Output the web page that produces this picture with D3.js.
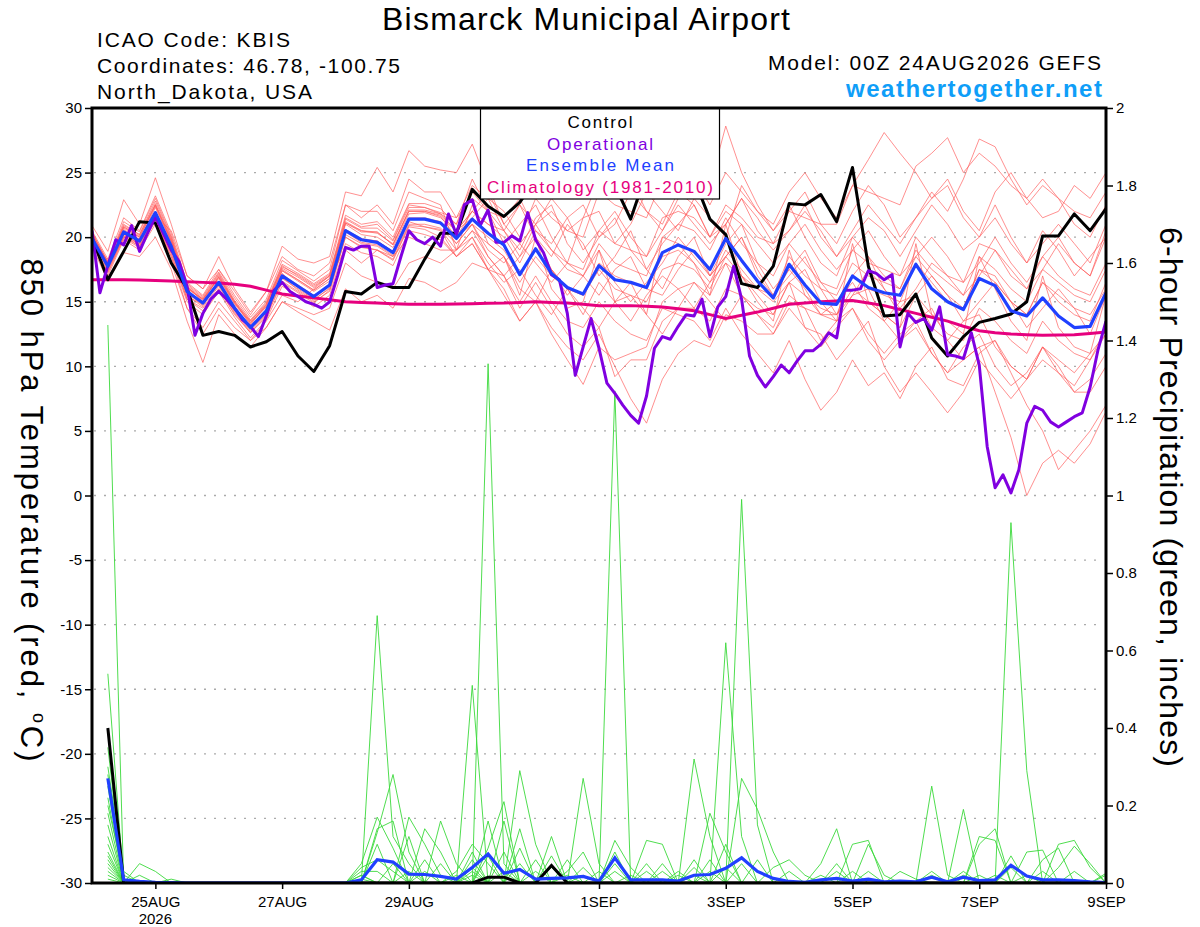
<!DOCTYPE html>
<html><head><meta charset="utf-8">
<script src="https://cdn.jsdelivr.net/npm/d3@7"></script>
<style>
body{margin:0;background:#fff}
svg{display:block}
text{font-family:"Liberation Sans",Arial,Helvetica,sans-serif}
</style>
</head><body>
<svg id="c" width="1200" height="927"></svg>
<script>
// ---------------- DATA ----------------
const runStartISO = "2026-08-24T00:00:00Z";
const tempHours = d3.range(0, 385, 6);     // 6-hourly GEFS output
const operHours = d3.range(0, 385, 3);     // 3-hourly operational GFS
const precipHours = d3.range(6, 385, 6);   // 6-h accumulations

const tempTicks = [-30,-25,-20,-15,-10,-5,0,5,10,15,20,25,30];
const gridTemps = [-25,-20,-15,-10,-5,0,5,10,15,20,25];
const precipTicks = [0,0.2,0.4,0.6,0.8,1,1.2,1.4,1.6,1.8,2];
const precipTickLabels = ["0","0.2","0.4","0.6","0.8","1","1.2","1.4","1.6","1.8","2"];
const xTickDates = ["2026-08-25","2026-08-27","2026-08-29","2026-09-01","2026-09-03","2026-09-05","2026-09-07","2026-09-09"];
const xTickLabels = ["25AUG","27AUG","29AUG","1SEP","3SEP","5SEP","7SEP","9SEP"];

const controlTemp = [20.0,16.7,18.9,21.2,21.1,18.0,16.0,12.4,12.7,12.4,11.5,11.9,12.7,10.8,9.6,11.6,15.8,15.6,16.5,16.1,16.1,18.3,20.3,20.3,23.7,22.4,21.6,22.7,24.5,25.5,26.0,25.0,25.5,24.0,21.4,25.0,26.0,25.5,24.5,21.4,20.2,16.4,16.1,17.75,22.6,22.5,23.3,21.2,25.4,17.75,13.9,14.0,15.6,12.2,10.8,12.3,13.4,13.7,14.05,15.0,20.1,20.1,21.8,20.5,22.2];

const operationalTemp = [20.5,15.7,17.8,19.8,19.4,20.9,18.9,20.3,21.6,20.3,19.0,18.1,16.2,12.4,14.1,15.2,15.8,15.2,14.5,13.6,13.1,12.3,13.9,15.9,16.5,15.8,15.4,15.0,14.8,14.5,15.0,17.0,19.2,19.0,19.3,19.3,16.1,16.3,16.4,18.5,20.5,19.8,19.5,20.0,19.3,21.8,20.2,22.5,22.9,20.9,22.1,19.6,19.6,20.1,19.7,21.9,19.8,18.8,17.1,16.7,14.1,9.3,11.5,13.7,11.4,8.7,7.9,7.0,6.2,5.6,7.7,11.4,12.3,12.1,13.1,14.0,13.9,15.2,12.3,14.6,15.4,17.75,15.2,10.8,9.3,8.4,9.2,10.1,9.5,10.4,11.2,11.2,11.7,12.6,12.2,15.9,15.9,16.0,17.4,17.2,16.7,17.1,11.5,14.1,13.4,13.7,12.8,14.6,10.9,10.8,10.6,12.6,10.1,3.8,0.6,1.6,0.2,2.0,5.6,6.9,6.6,5.7,5.3,5.7,6.1,6.4,8.4,11.3,13.5];

const meanTemp = [19.9,17.75,20.4,19.7,21.9,19.3,15.8,14.9,16.5,14.5,13.0,14.3,17.0,16.2,15.4,16.3,20.5,19.8,19.6,18.8,21.4,21.4,21.1,19.9,21.4,20.3,19.4,17.1,19.1,17.2,16.1,15.6,17.8,16.7,16.5,16.1,18.8,19.4,18.9,17.5,19.9,18.2,16.6,15.3,17.9,16.3,14.9,14.8,17.0,16.1,15.7,15.5,17.9,16.0,15.0,14.4,16.8,16.25,14.3,13.9,15.3,13.9,13.0,13.1,15.7];

const climoTemp = [16.7,16.7,16.7,16.68,16.65,16.6,16.55,16.5,16.45,16.35,16.2,15.9,15.6,15.45,15.3,15.15,15.0,14.95,14.9,14.85,14.8,14.8,14.8,14.82,14.85,14.88,14.9,14.95,15.0,14.95,14.9,14.8,14.7,14.7,14.7,14.65,14.6,14.45,14.3,14.0,13.7,13.95,14.2,14.5,14.8,14.9,15.0,15.05,15.1,14.9,14.7,14.4,14.1,13.8,13.5,13.1,12.75,12.6,12.5,12.45,12.4,12.42,12.45,12.55,12.65];

const member01 = [20.3,18.0,21.0,20.2,22.8,20.0,16.2,15.0,17.0,15.0,13.2,14.8,17.8,17.0,16.2,17.0,21.5,20.8,21.0,19.8,22.5,22.3,21.8, 21.0,24.5,22.0,19.5,21.0,22.5,20.0,18.0,21.5,22.0,19.5,21.0,23.5,22.0,20.5,23.0,21.5,20.0,24.0,22.0, 20.5,22.0,23.5,21.0,19.5,22.0,24.0,22.5,20.0,21.5,23.0,24.5,22.0,20.5,23.5,25.0,23.0,21.5,22.0,24.0,23.0,25.0];
const member02 = [19.5,17.0,19.8,19.0,21.0,18.5,15.0,14.0,15.8,13.8,12.2,13.6,16.2,15.5,14.6,15.5,19.5,18.8,18.5,17.8,20.5,20.2,19.8, 18.5,20.0,17.5,18.5,16.0,15.0,17.5,16.0,14.0,16.5,15.0,13.5,15.5,17.0,16.0,14.5,16.5,18.0,15.5,14.0, 13.0,15.5,14.5,12.0,13.5,14.5,12.5,11.0,12.5,13.5,11.0,9.5,10.5,11.5,8.0,4.5,0.0,2.5,3.5,2.5,4.0,6.5];
const member03 = [20.0,17.8,20.6,19.8,22.3,19.6,16.0,15.2,16.8,14.8,13.3,14.6,17.4,16.6,15.8,16.6,21.0,20.2,20.0,19.2,21.8,21.9,21.5, 20.5,22.0,21.0,20.5,18.5,21.0,19.0,17.5,17.0,19.5,18.0,17.5,17.0,20.0,21.0,20.5,19.0,21.5,19.5,18.0, 17.0,19.5,18.0,16.5,16.0,19.0,18.0,17.5,17.0,20.0,18.5,17.0,16.5,19.5,19.0,17.0,16.0,18.5,17.0,16.0,15.5,18.0];
const member04 = [19.8,17.5,20.0,19.3,21.5,18.8,15.2,14.3,16.0,14.0,12.6,13.9,16.6,15.8,15.0,15.8,20.0,19.2,19.0,18.2,20.8,20.6,20.0, 18.5,19.5,17.5,16.0,13.5,15.0,13.0,11.5,10.5,12.5,10.0,7.5,5.6,9.0,11.0,12.0,11.5,14.0,13.5,12.5, 12.5,15.0,14.5,14.0,14.0,17.0,16.0,15.5,15.0,18.0,16.5,15.0,14.5,17.5,17.0,15.0,14.0,16.5,15.0,14.0,13.5,16.5];
const member05 = [20.5,18.3,21.5,20.5,23.2,20.3,16.5,15.5,17.5,15.5,13.8,15.2,18.2,17.4,16.6,17.5,22.5,21.5,22.5,21.0,24.5,23.5,23.5, 21.5,24.0,23.0,22.0,20.0,23.0,21.5,20.5,20.0,23.5,22.5,22.0,21.5,24.5,25.0,24.5,24.0,28.6,25.0,22.5, 20.5,22.5,20.0,18.0,17.0,20.0,18.5,17.0,16.0,18.5,17.0,15.5,14.5,17.5,16.5,15.0,14.0,16.5,15.5,14.5,14.0,16.0];
const member06 = [19.6,17.3,20.0,19.5,21.5,19.0,15.5,14.6,16.2,14.2,12.7,14.0,16.8,16.0,15.2,16.0,20.2,19.5,19.3,18.5,21.0,21.0,20.7, 19.5,21.0,20.0,19.0,17.0,19.0,17.5,16.0,15.5,17.5,16.0,15.5,15.0,17.5,18.0,17.5,16.0,18.5,17.0,15.5, 14.0,16.5,13.0,12.5,10.5,12.0,13.5,10.0,8.0,9.5,8.0,6.4,8.0,10.5,9.0,7.5,9.0,11.5,9.5,8.5,10.5,13.0];
const member07 = [20.2,17.9,20.8,20.0,22.5,19.8,16.3,15.3,17.2,15.1,13.5,14.9,17.6,16.9,16.1,17.0,21.2,20.5,20.3,19.5,22.0,22.0,21.6, 20.0,22.0,21.0,20.0,18.0,20.5,19.0,18.0,17.5,20.5,19.5,19.0,18.5,21.5,22.0,21.5,20.0,22.5,21.5,20.0, 19.5,22.0,21.5,21.0,21.0,24.0,23.5,23.0,22.5,25.5,26.5,27.7,25.0,26.5,25.5,24.0,23.0,24.5,23.0,22.0,21.5,23.5];
const member08 = [19.7,18.2,20.2,19.9,21.6,20.5,17.0,16.0,17.5,15.8,14.0,15.8,18.5,17.5,17.0,18.0,22.5,22.0,22.0,20.5,23.5,23.0,22.5, 19.0,22.5,19.5,18.5,15.5,20.0,16.0,14.5,15.0,19.0,15.0,15.5,14.0,20.0,19.5,18.0,15.5,21.0,17.0,15.0, 13.5,19.0,15.5,14.0,13.5,19.5,15.0,14.0,13.0,19.5,14.0,13.5,12.5,18.5,16.0,13.5,12.0,17.0,13.0,11.5,11.0,15.5];
const member09 = [19.9,17.6,20.3,19.4,21.8,19.0,15.4,14.8,16.3,14.3,12.8,14.1,16.9,15.9,15.1,16.1,20.4,19.6,19.4,18.6,21.2,20.8,20.5, 18.5,19.5,17.5,15.5,13.5,15.0,12.5,10.5,8.6,11.5,10.5,11.0,11.5,15.0,16.0,16.5,15.5,18.0,17.0,16.0, 15.5,18.5,17.0,16.0,15.5,18.0,17.0,16.5,16.0,19.0,17.5,16.5,15.5,18.5,17.5,16.0,15.0,17.5,16.5,15.5,15.0,17.5];
const member10 = [20.9,18.9,22.9,21.0,24.6,21.0,17.0,16.0,18.5,16.0,14.2,15.8,19.3,18.3,18.0,18.5,23.5,23.2,25.4,23.5,26.7,25.5,25.2, 25.0,27.2,24.0,21.0,22.5,20.0,18.5,21.0,19.5,17.0,18.5,20.5,17.5,16.0,18.5,20.0,17.0,19.5,21.0,18.0, 16.0,17.5,19.0,16.5,15.0,17.0,18.5,16.0,14.5,16.0,18.0,17.0,15.5,17.0,19.0,17.5,16.0,17.5,19.5,18.0,17.0,20.0];
const member11 = [19.4,17.2,19.9,19.2,21.2,18.7,15.2,14.5,16.0,14.1,12.6,13.8,16.5,15.7,14.9,15.9,20.0,19.3,19.0,18.3,20.9,20.8,20.6, 19.0,20.5,19.5,18.5,16.5,18.5,17.0,16.0,15.5,18.0,17.0,16.5,16.0,18.5,19.0,18.0,16.5,19.0,17.5,16.0, 15.0,16.5,17.5,15.0,13.5,15.5,16.0,13.5,12.0,13.5,14.5,12.0,10.5,11.5,12.0,9.5,7.0,5.0,2.0,3.5,5.0,7.0];
const member12 = [20.4,18.1,21.2,20.4,23.0,20.1,16.4,15.4,17.3,15.3,13.6,15.0,17.9,17.2,16.4,17.2,21.7,21.0,21.2,20.0,22.6,22.6,22.2, 21.0,23.5,22.0,21.5,23.0,20.5,19.5,21.5,22.5,20.0,21.0,23.5,22.0,20.5,23.0,24.5,22.5,25.0,23.5,22.0, 21.0,23.5,25.0,23.0,21.5,24.0,26.0,28.1,26.5,25.0,23.0,24.0,21.5,20.0,22.5,20.0,18.0,20.5,19.0,17.0,18.5,20.0];
const member13 = [19.8,17.7,20.4,19.6,21.9,19.2,15.7,14.7,16.6,14.4,13.0,14.4,17.2,16.1,15.3,16.4,20.6,19.9,19.7,18.9,21.5,21.5,21.2, 20.0,21.0,19.0,18.0,19.5,18.0,16.5,18.0,17.0,15.5,17.5,18.5,16.0,15.5,17.5,19.0,17.0,18.5,20.0,17.0, 15.5,17.5,16.0,14.0,15.0,16.5,14.5,13.5,15.0,15.5,13.0,12.0,13.5,14.0,11.5,10.0,9.0,10.5,9.5,8.0,8.0,10.0];
const member14 = [19.3,16.6,18.8,18.5,20.0,17.5,13.5,10.3,14.0,12.5,11.5,13.0,15.0,14.2,13.5,12.8,16.0,15.0,15.5,14.5,16.8,16.5,15.8, 16.5,18.0,17.5,17.0,15.0,17.0,15.0,13.5,13.0,15.0,13.5,12.5,12.0,14.5,14.0,13.5,12.0,14.5,12.5,11.0, 9.5,12.0,9.0,6.6,8.0,10.5,8.5,9.5,7.5,10.0,11.5,9.0,8.5,11.0,12.0,10.0,9.0,11.5,10.5,9.5,11.0,12.5];
const member15 = [20.1,18.0,20.7,20.0,22.4,19.7,16.1,15.1,16.9,14.9,13.4,14.7,17.5,16.7,15.9,16.8,21.1,20.4,20.4,19.4,22.0,22.0,21.7, 20.5,21.5,23.0,20.5,19.0,21.5,22.5,19.5,18.0,20.0,21.5,19.0,17.5,19.5,21.0,22.5,20.0,21.0,23.0,20.5, 19.0,20.5,22.5,20.0,18.5,20.5,22.5,21.0,19.5,21.5,23.5,22.0,24.5,27.6,27.0,24.5,22.5,24.0,23.0,21.0,20.0,22.5];
const member16 = [19.9,17.9,20.5,19.8,22.0,19.4,15.9,14.9,16.4,14.5,13.1,14.3,17.1,16.3,15.5,16.3,20.6,19.8,19.7,18.9,21.4,21.4,21.2, 19.5,21.0,18.5,17.0,18.5,20.0,17.5,15.5,17.0,19.0,16.5,15.0,16.5,18.0,20.0,18.5,17.0,18.5,20.0,17.5, 15.5,17.0,18.5,16.0,14.0,15.5,17.5,16.0,14.0,15.5,17.0,15.5,13.5,15.0,16.5,15.0,13.0,14.5,16.0,14.5,12.5,15.5];
const member17 = [19.6,17.4,20.1,19.3,21.4,18.5,14.5,13.0,15.0,13.5,12.0,13.5,15.5,15.0,16.0,17.0,19.0,18.0,19.0,18.5,20.0,19.5,19.0, 19.0,20.5,18.5,17.0,14.5,16.5,14.5,12.5,11.5,13.0,9.2,10.5,10.5,13.5,14.5,14.5,13.5,16.0,15.5,14.5, 14.0,16.5,15.5,14.5,14.0,16.0,15.0,14.0,13.0,15.5,14.0,12.5,12.0,14.5,13.5,12.0,11.0,13.5,12.0,11.0,10.5,12.5];
const member18 = [20.3,18.1,20.9,20.2,22.6,19.9,16.2,15.2,17.1,15.0,13.5,14.8,17.7,17.1,16.3,17.1,21.4,20.7,20.7,19.7,22.3,22.3,21.9, 21.5,23.0,22.0,20.5,22.5,21.0,22.0,20.5,21.5,24.5,26.5,24.5,22.0,21.0,23.5,22.5,20.0,22.0,21.0,19.5, 18.0,19.5,21.0,19.0,17.5,19.0,20.5,18.5,17.0,18.5,20.0,18.5,16.5,18.0,20.0,18.0,16.5,18.5,20.0,18.0,17.0,20.5];
const member19 = [19.7,17.6,20.2,19.5,21.7,18.0,14.5,12.5,14.5,13.0,12.0,13.0,15.0,14.5,14.0,14.5,18.0,17.0,16.5,16.0,18.0,18.5,18.0, 19.0,20.0,18.0,16.5,17.5,15.5,14.0,16.0,14.5,13.0,15.0,16.5,14.0,12.5,14.5,16.5,15.0,13.5,15.5,14.0, 12.5,14.5,13.0,11.5,13.0,14.5,12.0,10.5,12.0,13.0,11.0,9.5,11.5,12.5,10.0,8.5,9.5,11.5,10.0,8.0,9.0,11.0];
const member20 = [20.2,17.9,20.8,20.1,22.5,19.7,16.1,15.2,16.9,14.9,13.4,14.6,17.4,16.7,15.9,16.8,21.1,20.5,20.4,19.4,22.1,22.1,21.8, 20.5,22.0,23.5,21.0,19.5,21.0,23.0,21.5,19.0,20.5,22.0,20.0,18.5,20.5,22.5,21.0,19.5,21.0,23.0,21.5, 19.5,20.5,22.0,20.5,18.5,20.0,21.5,20.5,18.5,20.5,22.5,21.0,19.0,20.0,21.5,19.5,18.0,19.5,21.0,19.5,18.0,21.0];
const memberTemps = [member01,member02,member03,member04,member05,member06,member07,member08,member09,member10,member11,member12,member13,member14,member15,member16,member17,member18,member19,member20];

// 6-hour precipitation (inches), steps 6h..384h
const precip01 = [1.44,0,0,0,0,0,0,0, 0,0,0,0,0,0,0,0, 0,0,0,0,0.06,0,0,0, 0.16,0,0,0.06,0,0,0,0, 1.27,0,0,0,0,0,0,0, 0,0.06,0,0,0,0,0,0, 0,0,0,0,0,0,0,0, 0.02,0,0,0,0,0,0,0.02];
const precip02 = [0.54,0,0,0,0,0,0,0, 0,0,0,0,0,0,0,0, 0,0,0,0,0,0.05,0,0.06, 0,0.08,0,0,0,0,0.04,0, 0,0,0,0,0,0.06,0,0, 0,0,0,0,0,0,0,0.03, 0,0,0,0,0.25,0.02,0,0, 0,0,0,0,0,0,0,0];
const precip03 = [0.35,0,0,0,0,0,0,0, 0,0,0,0,0,0,0,0, 0.05,0.17,0.09,0,0,0,0,0, 0,0,0,0,0.04,0,0,0, 0,0,0.11,0.10,0,0,0,0, 0,0,0,0,0,0,0,0, 0,0,0,0,0,0,0.03,0, 0,0,0,0,0,0,0,0];
const precip04 = [0.30,0.03,0,0,0,0,0,0, 0,0,0,0,0,0,0,0, 0,0,0,0.12,0,0,0,0.03, 0,0,0.09,0,0,0,0,0, 0.03,0,0,0,0,0,0.03,0, 0,0,0,0,0,0.05,0.14,0, 0,0,0,0,0,0,0,0, 0,0,0,0,0.10,0.11,0.04,0];
const precip05 = [0.28,0,0,0,0,0,0,0, 0,0,0,0,0,0,0,0, 0,0.69,0.12,0.05,0,0,0,0, 0,0,0,0,0,0.02,0,0, 0,0.02,0,0,0,0,0,0, 0,0,0,0,0,0,0,0, 0.03,0,0,0,0,0,0,0.12, 0.11,0,0,0,0,0,0,0];
const precip06 = [0.25,0,0.05,0.03,0,0,0,0, 0,0,0,0,0,0,0,0, 0,0,0,0,0,0,0,0, 0.09,0.21,0,0,0,0,0,0, 0,0,0,0,0.02,0,0,0, 0.05,0,0,0,0,0,0,0, 0,0,0,0,0,0,0,0, 0,0.07,0,0,0,0,0,0];
const precip07 = [0.22,0,0,0,0,0,0,0, 0,0,0,0,0,0,0,0, 0.04,0.06,0.03,0,0,0,0.02,0, 0,0,0.05,0,0,0,0,0, 0.08,0,0,0,0,0,0.18,0.08, 0,0,0,0,0,0,0,0, 0,0,0,0,0.03,0,0,0, 0,0,0.02,0,0,0,0,0];
const precip08 = [0.20,0.02,0,0,0,0,0,0, 0,0,0,0,0,0,0,0, 0,0,0,0,0.14,0.08,0,0, 0,0,0,0,0,0,0.02,0, 0,0,0,0,0,0,0,0, 0,0,0.04,0.06,0.02,0,0,0, 0,0,0,0,0,0,0,0, 0,0,0,0,0,0,0,0];
const precip09 = [0.18,0,0,0,0,0,0,0, 0,0,0,0,0,0,0,0, 0,0.14,0.16,0,0,0,0,0, 0,0.03,0,0,0.07,0,0,0, 0,0,0,0,0,0,0.06,0, 0.99,0.15,0,0,0,0,0,0, 0,0,0,0,0,0,0,0, 0,0,0,0.03,0,0,0,0];
const precip10 = [0.15,0,0.02,0,0,0,0,0, 0,0,0,0,0,0,0,0, 0,0,0,0,0.03,0,0,0.51, 0,0,0,0,0,0,0,0.03, 0,0,0.05,0,0,0,0,0, 0,0,0,0,0,0,0,0.10, 0.11,0,0,0,0,0,0,0, 0,0,0,0,0,0,0,0.025];
const precip11 = [0.12,0,0,0,0,0,0,0, 0,0,0,0,0,0,0,0, 0.03,0.03,0,0,0,0,0,0, 0.07,0,0.14,0,0,0,0,0, 0,0,0,0,0,0.04,0,0.62, 0.12,0,0,0,0,0,0,0, 0,0,0,0,0,0,0.02,0, 0,0,0,0,0,0,0,0];
const precip12 = [0.10,0,0,0,0,0,0,0, 0,0,0,0,0,0,0,0, 0,0.13,0.28,0.08,0,0,0,0, 0,0,0,0,0,0.06,0,0, 0,0,0,0,0.03,0,0,0, 0,0,0,0,0,0,0,0, 0,0,0.03,0.01,0,0,0,0, 0,0,0.08,0.085,0,0,0,0];
const precip13 = [0.08,0,0,0,0.01,0,0,0, 0,0,0,0,0,0,0,0, 0,0,0,0,0,0,0.03,0.10, 0.05,0,0,0,0,0,0.27,0.05, 0,0,0,0,0,0,0,0, 0,0,0,0,0,0,0.05,0, 0,0,0,0,0,0,0,0, 0,0,0,0,0.04,0.095,0.05,0];
const precip14 = [0.07,0,0,0,0,0,0,0, 0,0,0,0,0,0,0,0, 0,0,0,0.17,0.10,0.02,0,0, 0,0,0,0.03,0,0,0,0, 0,0,0,0.05,0,0,0,0.10, 0,0,0,0,0,0,0,0, 0,0,0,0,0.02,0,0,0, 0,0.93,0.29,0,0,0,0,0];
const precip15 = [0.06,0,0,0,0,0,0,0, 0,0,0,0,0,0,0,0, 0.02,0,0,0,0,0,0,0.08, 0,0,0,0,0.12,0,0,0, 0,0,0,0,0,0.02,0,0, 0.27,0.19,0.08,0,0,0,0,0, 0,0,0,0,0,0,0,0, 0,0,0,0,0,0,0,0];
const precip16 = [0.05,0,0,0,0,0,0,0, 0,0,0,0,0,0,0,0, 0,0.10,0,0,0,0,0,0, 1.34,0.05,0,0,0,0,0,0, 0.05,0,0,0,0,0,0,0, 0,0,0,0,0,0.02,0,0, 0,0,0,0,0,0,0,0.10, 0.14,0,0,0,0,0,0,0];
const precip17 = [0.04,0,0,0,0,0,0,0, 0,0,0,0,0,0,0,0, 0,0,0.05,0,0,0,0,0.02, 0,0,0.29,0.10,0,0,0,0, 0,0,0.03,0,0,0,0,0, 0,0,0,0,0,0,0.03,0, 0,0,0,0,0,0,0,0, 0,0.04,0,0,0,0,0,0];
const precip18 = [0.03,0,0,0,0,0,0,0, 0,0,0,0,0,0,0,0, 0.02,0,0,0.03,0,0,0,0, 0,0,0,0,0,0.03,0.08,0, 0,0,0,0,0,0.32,0.12,0, 0,0,0,0,0,0,0,0, 0,0,0,0,0,0,0.19,0, 0,0,0,0,0,0,0,0];
const precip19 = [0.02,0,0,0,0,0,0,0, 0,0,0,0,0,0,0,0, 0,0,0,0,0,0.16,0.05,0, 0,0,0,0,0,0,0,0, 0,0,0,0.03,0,0,0,0, 0,0,0,0.03,0,0,0,0, 0.10,0.02,0,0,0,0,0,0, 0,0,0,0,0,0.03,0,0];
const precip20 = [0.01,0,0,0,0,0,0,0, 0,0,0,0,0,0,0,0, 0.01,0,0,0,0,0,0,0.04, 0,0.16,0,0,0,0,0,0, 0.11,0.04,0,0,0,0,0,0.04, 0,0,0,0,0,0,0,0, 0,0,0,0,0,0,0,0.02, 0,0,0,0.06,0.09,0,0,0];
const memberPrecips = [precip01,precip02,precip03,precip04,precip05,precip06,precip07,precip08,precip09,precip10,precip11,precip12,precip13,precip14,precip15,precip16,precip17,precip18,precip19,precip20];

const controlPrecip = [0.40,0,0,0,0,0,0,0, 0,0,0,0,0,0,0,0, 0,0,0,0,0,0,0,0, 0.015,0.015,0,0,0.045,0,0,0, 0,0,0,0,0,0,0,0, 0,0,0,0,0,0,0,0, 0,0,0,0,0,0,0,0, 0,0,0,0,0,0,0,0];
const meanPrecip = [0.27,0.008,0.004,0.002,0.001,0,0,0, 0,0,0,0,0,0,0,0, 0.008,0.06,0.054,0.023,0.022,0.017,0.01,0.04, 0.075,0.025,0.035,0.01,0.012,0.013,0.017,0.005, 0.065,0.008,0.008,0.008,0.005,0.02,0.022,0.038, 0.065,0.03,0.012,0.004,0.002,0.008,0.012,0.005, 0.01,0.003,0.005,0.003,0.015,0.003,0.015,0.006, 0.008,0.046,0.018,0.008,0.008,0.006,0.003,0.001];

const legendItems = ["Control","Operational","Ensemble Mean","Climatology (1981-2010)"];

// ---------------- CHART ----------------
const L = 92, R = 1106, T = 108, B = 883;
const C = {member:"#ff5a5a", precip:"#3bd93b", control:"#000000", oper:"#8000e0", mean:"#2040ff", climo:"#e6007e", grid:"#aaaaaa", site:"#0f9ef8"};
const start = new Date(runStartISO);
const hourDate = h => d3.utcHour.offset(start, h);

const x = d3.scaleUtc().domain([hourDate(0), hourDate(384)]).range([L, R]);
const yT = d3.scaleLinear().domain([-30, 30]).range([B, T]);
const yP = d3.scaleLinear().domain([0, 2]).range([B, T]);

const svg = d3.select("#c");
svg.append("rect").attr("width",1200).attr("height",927).attr("fill","#fff");

svg.append("defs").append("clipPath").attr("id","plot")
  .append("rect").attr("x",L).attr("y",T).attr("width",R-L).attr("height",B-T);

// grid
svg.append("g").selectAll("line").data(gridTemps).join("line")
  .attr("x1",L+2).attr("x2",R-2).attr("y1",d=>yT(d)).attr("y2",d=>yT(d))
  .attr("stroke",C.grid).attr("stroke-width",1.4).attr("stroke-dasharray","2,8");

const plot = svg.append("g").attr("clip-path","url(#plot)");

const lineFor = (hours, yScale) => d3.line().x((d,i)=>x(hourDate(hours[i]))).y(d=>yScale(d));
const tLine = lineFor(tempHours, yT);
const oLine = lineFor(operHours, yT);
const pLine = lineFor(precipHours, yP);

plot.append("g").selectAll("path").data(memberTemps).join("path")
  .attr("d", tLine).attr("fill","none").attr("stroke",C.member).attr("stroke-width",0.8).attr("stroke-opacity",0.85);
plot.append("g").selectAll("path").data(memberPrecips).join("path")
  .attr("d", pLine).attr("fill","none").attr("stroke",C.precip).attr("stroke-width",0.9);

plot.append("path").attr("d", tLine(climoTemp)).attr("fill","none").attr("stroke",C.climo).attr("stroke-width",3);
plot.append("path").attr("d", pLine(controlPrecip)).attr("fill","none").attr("stroke",C.control).attr("stroke-width",3);
plot.append("path").attr("d", pLine(meanPrecip)).attr("fill","none").attr("stroke",C.mean).attr("stroke-width",3.2);
plot.append("path").attr("d", tLine(controlTemp)).attr("fill","none").attr("stroke",C.control).attr("stroke-width",3).attr("stroke-linejoin","round");
plot.append("path").attr("d", oLine(operationalTemp)).attr("fill","none").attr("stroke",C.oper).attr("stroke-width",3).attr("stroke-linejoin","round");
plot.append("path").attr("d", tLine(meanTemp)).attr("fill","none").attr("stroke",C.mean).attr("stroke-width",3.2).attr("stroke-linejoin","round");

// legend
const lg = svg.append("g");
lg.append("rect").attr("x",480.5).attr("y",T).attr("width",239).attr("height",91)
  .attr("fill","#fff").attr("stroke","#000").attr("stroke-width",1.2);
const legendColors = [C.control, C.oper, C.mean, C.climo];
const legendLens = [65,106,148,226];
lg.selectAll("text").data(legendItems).join("text")
  .attr("x",600).attr("y",(d,i)=>128+i*21.5).attr("text-anchor","middle")
  .attr("font-size",17).attr("fill",(d,i)=>legendColors[i])
  .attr("textLength",(d,i)=>legendLens[i]).attr("lengthAdjust","spacing").text(d=>d);

// frame
svg.append("rect").attr("x",L).attr("y",T).attr("width",R-L).attr("height",B-T)
  .attr("fill","none").attr("stroke","#000").attr("stroke-width",3);

// axes
const styleAxis = g => { g.select(".domain").remove(); g.attr("font-size",15).attr("font-family",'"Liberation Sans",Arial,sans-serif');
  g.selectAll(".tick line").attr("stroke-width",1.5); g.selectAll(".tick text").attr("fill","#000"); };
svg.append("g").attr("transform",`translate(${L},0)`)
  .call(d3.axisLeft(yT).tickValues(tempTicks).tickSize(7).tickPadding(3).tickFormat(d=>String(d))).call(styleAxis);
svg.append("g").attr("transform",`translate(${R},0)`)
  .call(d3.axisRight(yP).tickValues(precipTicks).tickSize(7).tickPadding(3).tickFormat((d,i)=>precipTickLabels[i])).call(styleAxis);
svg.append("g").attr("transform",`translate(0,${B})`)
  .call(d3.axisBottom(x).tickValues(xTickDates.map(s=>new Date(s+"T00:00:00Z"))).tickSize(6).tickPadding(7).tickFormat((d,i)=>xTickLabels[i])).call(styleAxis);
svg.append("text").attr("x",x(new Date(xTickDates[0]+"T00:00:00Z"))).attr("y",924).attr("text-anchor","middle").attr("font-size",15).text("2026");

// titles
svg.append("text").attr("x",586).attr("y",30).attr("text-anchor","middle").attr("font-size",32)
  .attr("textLength",408).attr("lengthAdjust","spacing").text("Bismarck Municipal Airport");
const info = [["ICAO Code: KBIS",47,193],["Coordinates: 46.78, -100.75",73,303],["North_Dakota, USA",99,215]];
svg.append("g").selectAll("text").data(info).join("text")
  .attr("x",97).attr("y",d=>d[1]).attr("font-size",21).attr("textLength",d=>d[2]).attr("lengthAdjust","spacing").text(d=>d[0]);
svg.append("text").attr("x",1101).attr("y",70).attr("text-anchor","end").attr("font-size",21)
  .attr("textLength",333).attr("lengthAdjust","spacing").text("Model: 00Z 24AUG2026 GEFS");
svg.append("text").attr("x",1102).attr("y",97).attr("text-anchor","end").attr("font-size",24).attr("font-weight","bold")
  .attr("fill",C.site).attr("textLength",256).attr("lengthAdjust","spacing").text("weathertogether.net");

// axis titles
const yl = svg.append("text").attr("transform","translate(21,510) rotate(90)").attr("text-anchor","middle")
  .attr("font-size",31).attr("textLength",503).attr("lengthAdjust","spacing");
yl.append("tspan").text("850 hPa Temperature (red, ");
yl.append("tspan").attr("font-size",18).attr("dy",-12).text("o");
yl.append("tspan").attr("dy",12).text("C)");
svg.append("text").attr("transform","translate(1160,497) rotate(90)").attr("text-anchor","middle")
  .attr("font-size",32).attr("textLength",540).attr("lengthAdjust","spacing").text("6-hour Precipitation (green, inches)");
</script>
</body></html>
